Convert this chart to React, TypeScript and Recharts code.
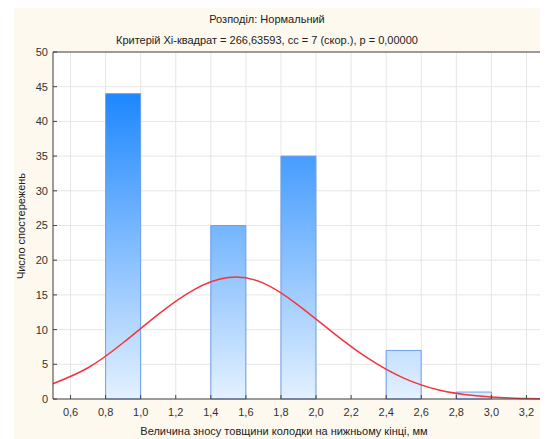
import { ComposedChart, Bar, Line, XAxis, YAxis, CartesianGrid } from 'recharts';

// histogram bins (centres, width 0.2 mm) and observed counts
const binCenters = [0.9, 1.5, 1.9, 2.5, 2.9];
const counts = [44, 25, 35, 7, 1];

// fitted normal curve
const curveX = [0.5, 0.7, 0.9, 1.1, 1.3, 1.5, 1.7, 1.9, 2.1, 2.3, 2.5, 2.7, 2.9, 3.1, 3.3];
const curveY = [2.2, 4.5, 8.1, 12.2, 15.7, 17.5, 16.7, 13.5, 9.5, 5.8, 3.0, 1.3, 0.5, 0.15, 0.04];

const xTicks = [0.6, 0.8, 1.0, 1.2, 1.4, 1.6, 1.8, 2.0, 2.2, 2.4, 2.6, 2.8, 3.0, 3.2];
const yTicks = [0, 5, 10, 15, 20, 25, 30, 35, 40, 45, 50];

const title = 'Розподіл: Нормальний';
const subtitle = 'Критерій Хі-квадрат = 266,63593, сс = 7 (скор.), р = 0,00000';
const xLabel = 'Величина зносу товщини колодки на нижньому кінці, мм';
const yLabel = 'Число спостережень';

const rows = curveX.map((x, i) => {
  const b = binCenters.indexOf(x);
  return { x, curve: curveY[i], count: b >= 0 ? counts[b] : undefined };
});

const font = '"Liberation Sans", Arial, sans-serif';
const axisColor = '#444';
const tickStyle = { fontSize: 11, fill: '#333', fontFamily: font };
const comma = (v: number) => v.toFixed(1).replace('.', ',');

export default function App() {
  return (
    <div style={{ position: 'relative', width: 540, height: 431, fontFamily: font, color: '#222' }}>
      <div style={{ position: 'absolute', left: 6, top: 0, right: 0, bottom: 0, background: '#fdf9ee' }} />
      <div style={{ position: 'absolute', left: 0, top: 1, width: 518, textAlign: 'center', fontSize: 11, lineHeight: '21px' }}>
        <div>{title}</div>
        <div>{subtitle}</div>
      </div>
      <div style={{ position: 'absolute', left: 0, top: 0 }}>
        <ComposedChart width={540} height={431} data={rows} margin={{ top: 40, right: 0, bottom: 0, left: 0 }} barCategoryGap={0} barGap={0}>
          <defs>
            <linearGradient id="barGrad" gradientUnits="userSpaceOnUse" x1="0" y1="86" x2="0" y2="391">
              <stop offset="0" stopColor="#1e87fe" />
              <stop offset="1" stopColor="#e4f1ff" />
            </linearGradient>
          </defs>
          <CartesianGrid stroke="#e6e6e6" fill="#fff" />
          <XAxis
            dataKey="x"
            type="number"
            domain={[0.5, 3.3]}
            ticks={xTicks}
            tickFormatter={comma}
            height={40}
            tickSize={-4}
            tickMargin={13}
            tick={tickStyle}
            axisLine={{ stroke: axisColor }}
            tickLine={{ stroke: axisColor }}
          />
          <XAxis
            xAxisId="top"
            orientation="top"
            dataKey="x"
            type="number"
            domain={[0.5, 3.3]}
            ticks={xTicks}
            height={4}
            tickSize={-4}
            tick={false}
            axisLine={{ stroke: axisColor }}
            tickLine={{ stroke: axisColor }}
          />
          <YAxis
            domain={[0, 50]}
            ticks={yTicks}
            width={45}
            tickSize={-4}
            tickMargin={9}
            tick={tickStyle}
            axisLine={{ stroke: axisColor }}
            tickLine={{ stroke: axisColor }}
          />
          <YAxis
            yAxisId="right"
            orientation="right"
            domain={[0, 50]}
            ticks={yTicks}
            width={4}
            tickSize={-4}
            tick={false}
            axisLine={{ stroke: axisColor }}
            tickLine={{ stroke: axisColor }}
          />
          <Bar dataKey="count" fill="url(#barGrad)" stroke="#6d9eef" strokeWidth={1} isAnimationActive={false} />
          <Line dataKey="curve" type="natural" stroke="#f5333f" strokeWidth={1.5} dot={false} activeDot={false} isAnimationActive={false} />
        </ComposedChart>
      </div>
      <div style={{ position: 'absolute', left: 276, top: 416, transform: 'translateX(-50%)', whiteSpace: 'nowrap', fontSize: 11, lineHeight: '14px' }}>
        {xLabel}
      </div>
      <div style={{ position: 'absolute', left: 13, top: 218, transform: 'translate(-50%, -50%) rotate(-90deg)', whiteSpace: 'nowrap', fontSize: 11, lineHeight: '14px' }}>
        {yLabel}
      </div>
    </div>
  );
}
